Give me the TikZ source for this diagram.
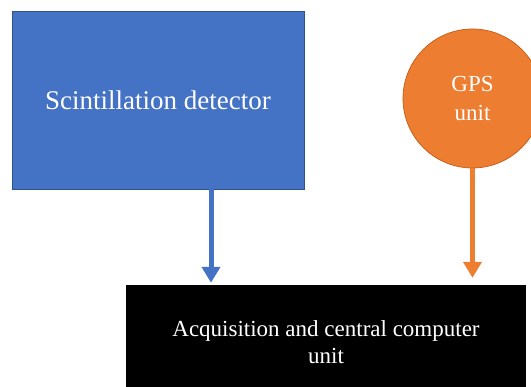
\documentclass[tikz,border=0pt]{standalone}
\usepackage{fontspec}
\setmainfont{Liberation Serif}
\usetikzlibrary{arrows.meta}

\definecolor{detblue}{HTML}{4472C4}
\definecolor{detblueline}{HTML}{2F528F}
\definecolor{gpsorange}{HTML}{ED7D31}
\definecolor{gpsorangeline}{HTML}{C55A11}

\begin{document}
\begin{tikzpicture}[x=1pt, y=-1pt]
        \tikzstyle{box}=[rectangle, align=center, text=white, inner sep=0pt]
        \tikzstyle{link}=[line width=5pt, -{Triangle[width=18pt, length=16pt]}]
        \clip (0, 0) rectangle (531, 387);
        \useasboundingbox (0, 0) rectangle (531, 387);
        % \draw[help lines, step=50] (0, 0) grid (531, 387);
        \node[box, fill=detblue, draw=detblueline, line width=0.7pt, minimum width=292pt, minimum height=178pt,
              font=\fontsize{27}{32}\selectfont] (detector) at (158, 100) {Scintillation detector};
        \node[circle, fill=gpsorange, draw=gpsorangeline, line width=0.7pt, minimum size=139pt, inner sep=0pt,
              align=center, text=white, font=\fontsize{23}{29}\selectfont] (gps) at (472.5, 98.5) {GPS\\unit};
        \node[box, fill=black, minimum width=400pt, minimum height=114pt,
              font=\fontsize{23}{27}\selectfont] (acquisition) at (326, 342) {Acquisition and central computer\\unit};

        \draw[link, draw=detblue, fill=detblue, shorten >=2pt] ([xshift=53pt]detector.south) -- ([xshift=53pt]detector.south |- acquisition.north);
        \draw[link, draw=gpsorange, fill=gpsorange, shorten >=7pt] (gps.south) -- (gps.south |- acquisition.north);

    \end{tikzpicture}
\end{document}
